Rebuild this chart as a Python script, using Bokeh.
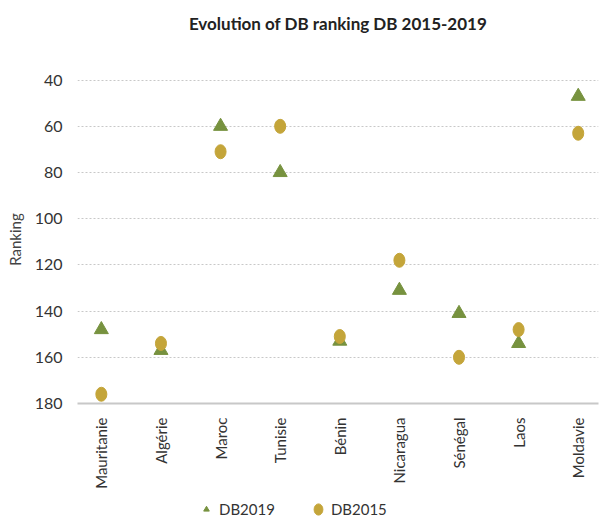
from bokeh.plotting import figure
from bokeh.layouts import column
from bokeh.models import Range1d, FixedTicker, Legend, LegendItem, ColumnDataSource
from bokeh.embed import file_html
from bokeh.resources import INLINE

countries = ["Mauritanie", "Algérie", "Maroc", "Tunisie", "Bénin",
             "Nicaragua", "Sénégal", "Laos", "Moldavie"]
db2019 = [148, 157, 60, 80, 153, 131, 141, 154, 47]
db2015 = [176, 154, 71, 60, 151, 118, 160, 148, 63]
y_ticks = [40, 60, 80, 100, 120, 140, 160, 180]
series_names = ["DB2019", "DB2015"]
title_text = "Evolution of DB ranking DB 2015-2019"

GREEN = "#77923f"
GOLD = "#c4a53a"
FONT = "Lato"

xs = list(range(len(countries)))
src = ColumnDataSource(dict(x=xs, c=countries, y19=db2019, y15=db2015))

# title strip (its frame is aligned with the chart's frame)
tf = figure(width=600, height=44, output_backend="svg", toolbar_location=None,
            title=title_text, x_range=Range1d(-0.40, 8.34), y_range=Range1d(0, 1),
            min_border_left=0, min_border_right=0, min_border_top=0,
            min_border_bottom=0)
tf.axis.visible = False
tf.grid.visible = False
tf.outline_line_color = None
tf.title.text_font = FONT
tf.title.text_font_style = "bold"
tf.title.text_font_size = "17px"
tf.title.text_color = "#222222"
tf.title.align = "center"
tf.title.standoff = 20

p = figure(width=600, height=456, output_backend="svg", toolbar_location=None,
           x_range=Range1d(-0.40, 8.34), y_range=Range1d(180, 38),
           min_border_left=77, min_border_right=2, min_border_top=31,
           min_border_bottom=97)

p.outline_line_color = None

p.xgrid.grid_line_color = None
p.ygrid.grid_line_color = "#c8c8c8"
p.ygrid.grid_line_dash = "2 2"

p.yaxis.ticker = FixedTicker(ticks=y_ticks)
p.yaxis.axis_line_color = None
p.yaxis.major_tick_line_color = None
p.yaxis.minor_tick_line_color = None
p.yaxis.major_label_text_font = FONT
p.yaxis.major_label_text_font_size = "16px"
p.yaxis.major_label_text_color = "#333333"
p.yaxis.major_label_standoff = 9
p.yaxis.axis_label = "Ranking"
p.yaxis.axis_label_text_font = FONT
p.yaxis.axis_label_text_font_style = "normal"
p.yaxis.axis_label_text_font_size = "15px"
p.yaxis.axis_label_text_color = "#444444"
p.yaxis.axis_label_standoff = 8

p.xaxis.ticker = FixedTicker(ticks=xs)
p.xaxis.major_label_overrides = {i: c for i, c in zip(xs, countries)}
p.xaxis.major_label_orientation = 1.5708
p.xaxis.axis_line_color = "#c8c8c8"
p.xaxis.axis_line_width = 2
p.xaxis.major_tick_line_color = None
p.xaxis.minor_tick_line_color = None
p.xaxis.major_label_text_font = FONT
p.xaxis.major_label_text_font_size = "15px"
p.xaxis.major_label_text_color = "#333333"
p.xaxis.major_label_standoff = 8

p.scatter("x", "y19", source=src, marker="triangle", size=14,
          fill_color=GREEN, line_color=GREEN)
p.ellipse("x", "y15", source=src, width=11, height=14,
          width_units="screen", height_units="screen",
          fill_color=GOLD, line_color=GOLD)

# legend strip below the chart (its frame is aligned with the chart's frame);
# the series are drawn there too but fall outside its visible range
lg = figure(width=600, height=18, output_backend="svg", toolbar_location=None,
            x_range=Range1d(-0.40, 8.34), y_range=Range1d(0, 1),
            min_border_left=0, min_border_right=0, min_border_top=0,
            min_border_bottom=0)
lg.axis.visible = False
lg.grid.visible = False
lg.outline_line_color = None
g19 = lg.scatter("x", "y19", source=src, marker="triangle", size=14,
                 fill_color=GREEN, line_color=GREEN)
g15 = lg.ellipse("x", "y15", source=src, width=11, height=14,
                 width_units="screen", height_units="screen",
                 fill_color=GOLD, line_color=GOLD)
legend = Legend(items=[LegendItem(label=series_names[0], renderers=[g19]),
                       LegendItem(label=series_names[1], renderers=[g15])],
                orientation="horizontal", location=(122, 0),
                border_line_color=None, background_fill_alpha=0,
                label_text_font=FONT, label_text_font_size="15px",
                label_text_color="#333333", spacing=36, padding=0, margin=0,
                glyph_width=14, glyph_height=16, label_standoff=6,
                label_height=16)
lg.add_layout(legend)

layout = column(tf, p, lg, spacing=0)
open("out.html", "w").write(file_html(layout, INLINE))
